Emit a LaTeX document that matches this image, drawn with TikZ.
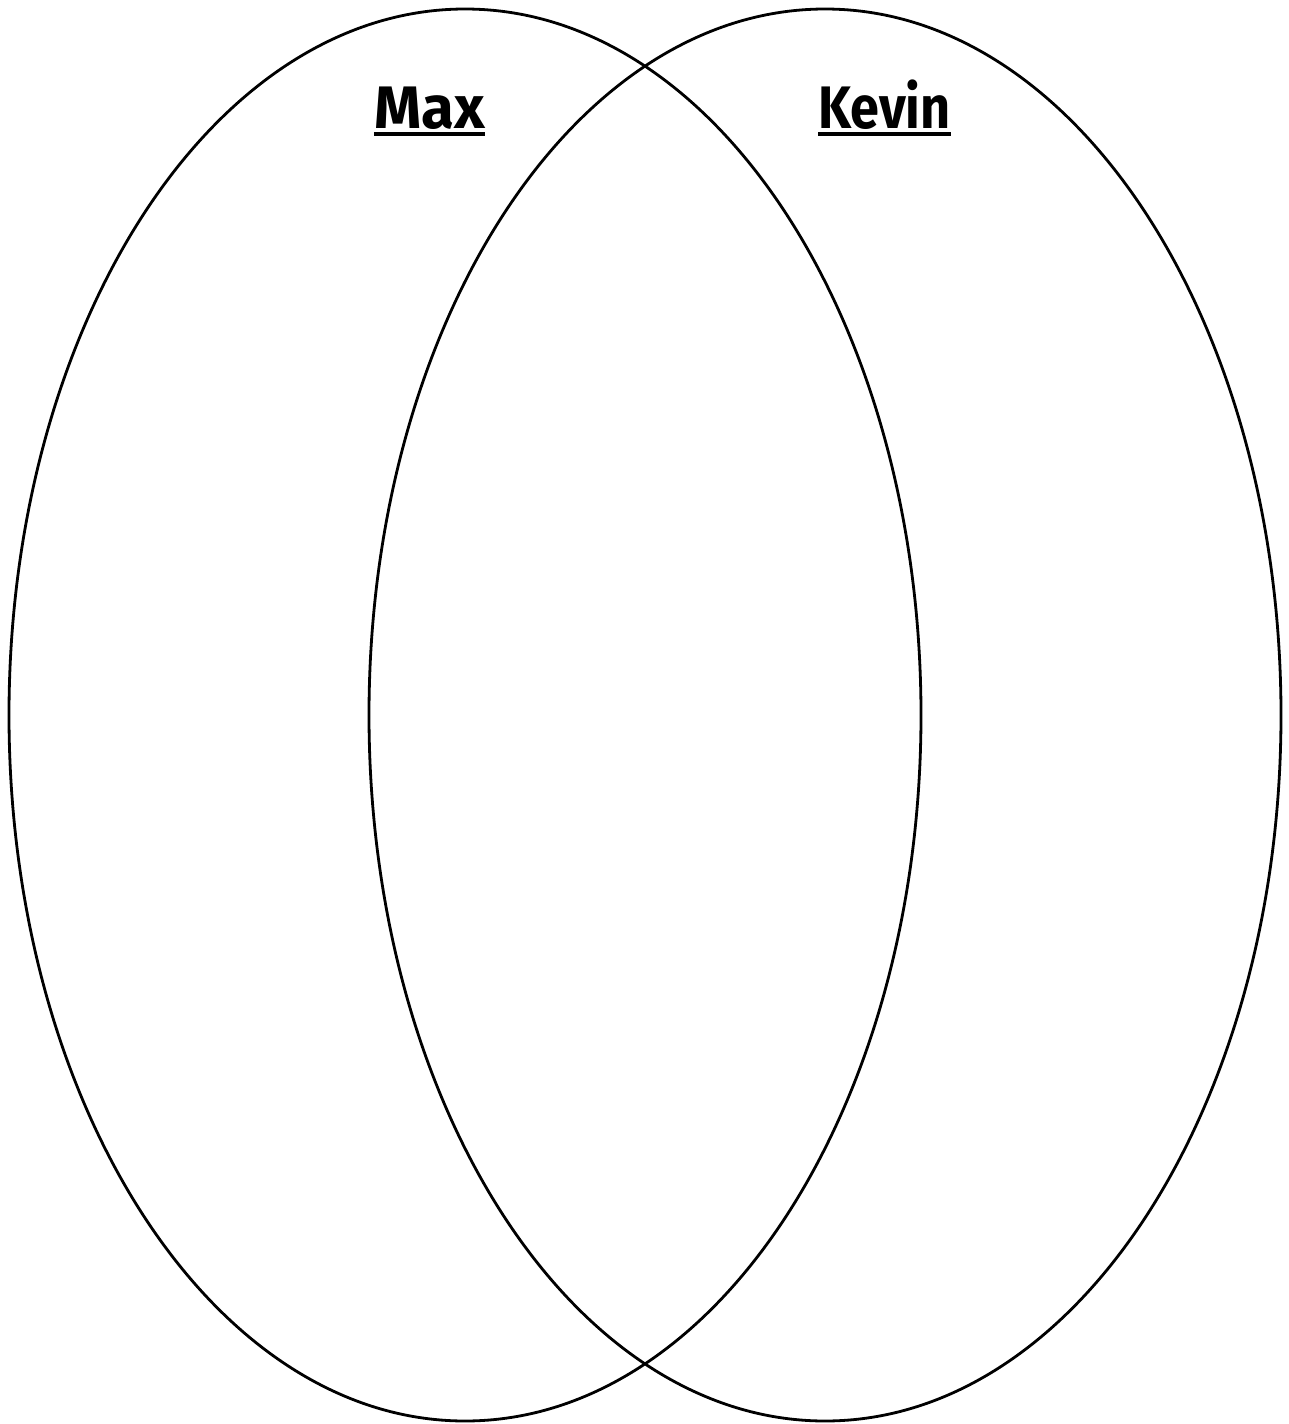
\documentclass[tikz,border=0pt]{standalone}
\usepackage{fontspec}
\setmainfont{Fira Sans}
\begin{document}
\begin{tikzpicture}[x=1pt,y=-1pt,
  venn/.style={draw=black,line width=2.8pt},
  setlabel/.style={font=\fontsize{60}{60}\selectfont\bfseries,inner sep=0pt,anchor=base}]
\useasboundingbox[fill=white] (0,0) rectangle (1288,1424);
\draw[venn] (465,715) ellipse [x radius=456, y radius=706];
\draw[venn] (825,715) ellipse [x radius=456, y radius=706];
\node[setlabel] (max) at (429.5,128) {Max};
\node[setlabel] (kevin) at (884.5,128) {\scalebox{0.87}[1]{Kevin}};
\draw[line width=4pt] (max.west |- 0,134) -- (max.east |- 0,134);
\draw[line width=4pt] (kevin.west |- 0,134) -- (kevin.east |- 0,134);
\end{tikzpicture}
\end{document}
